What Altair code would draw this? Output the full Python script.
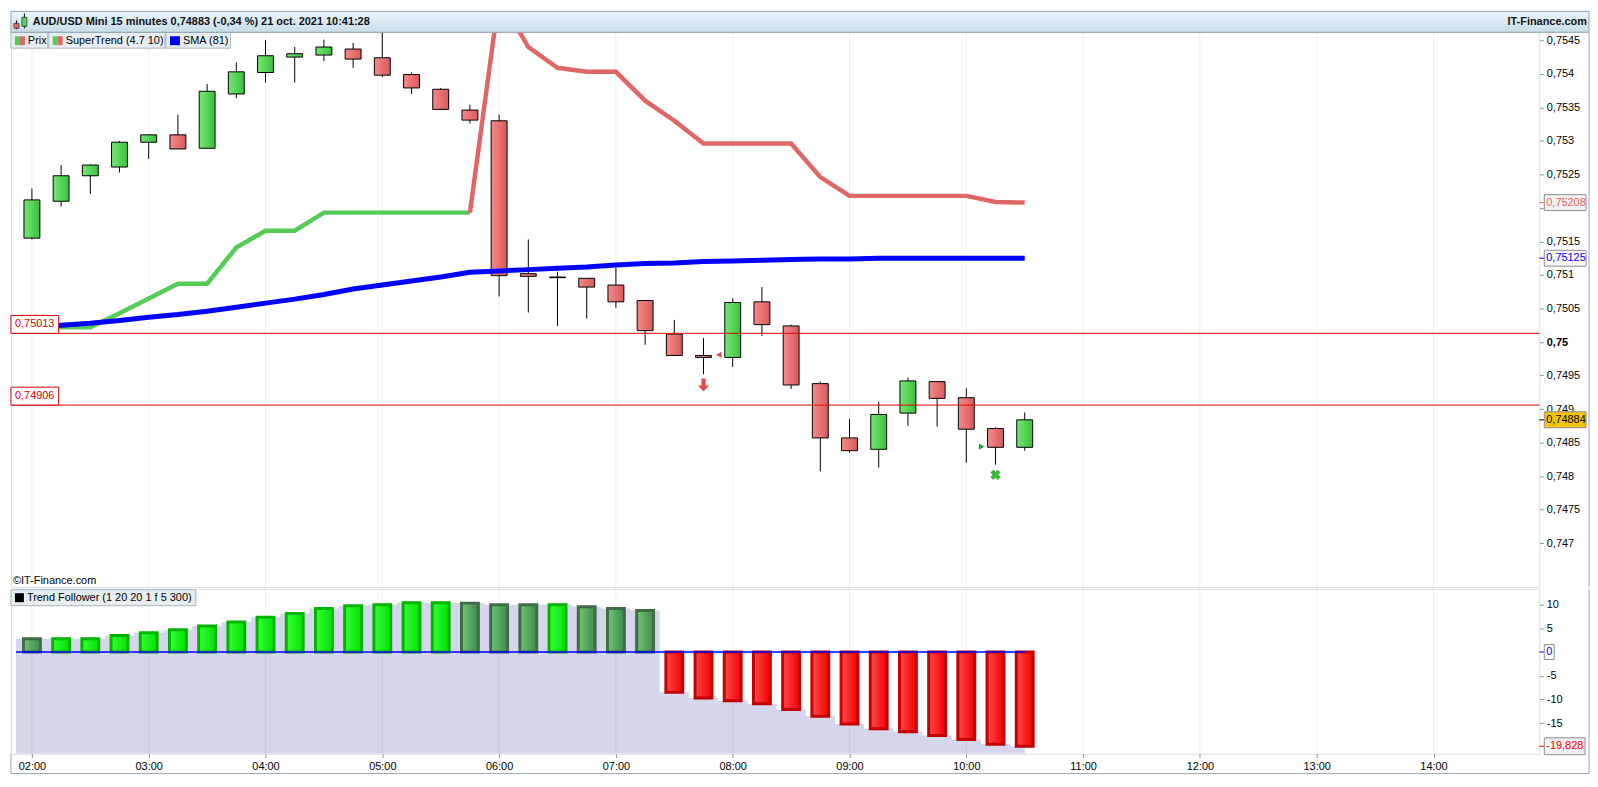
import altair as alt
import pandas as pd

FONT = "Liberation Sans"

# ---------------- data ----------------
times = ["02:00", "02:15", "02:30", "02:45", "03:00", "03:15", "03:30", "03:45",
         "04:00", "04:15", "04:30", "04:45", "05:00", "05:15", "05:30", "05:45",
         "06:00", "06:15", "06:30", "06:45", "07:00", "07:15", "07:30", "07:45",
         "08:00", "08:15", "08:30", "08:45", "09:00", "09:15", "09:30", "09:45",
         "10:00", "10:15", "10:30"]
opens = [0.75155, 0.75210, 0.75248, 0.75261, 0.75298, 0.75309, 0.75289, 0.75370,
         0.75402, 0.75425, 0.75428, 0.75437, 0.75424, 0.75399, 0.75377, 0.75346,
         0.75330, 0.75102, 0.75097, 0.75095, 0.75085, 0.75062, 0.75012, 0.74980,
         0.74977, 0.75060, 0.75024, 0.74938, 0.74857, 0.74840, 0.74894, 0.74941,
         0.74917, 0.74871, 0.74843]
highs = [0.75229, 0.75264, 0.75265, 0.75300, 0.75310, 0.75339, 0.75385, 0.75417,
         0.75450, 0.75440, 0.75451, 0.75446, 0.75470, 0.75402, 0.75379, 0.75354,
         0.75339, 0.75153, 0.75105, 0.75095, 0.75111, 0.75062, 0.75033, 0.75006,
         0.75065, 0.75082, 0.75026, 0.74941, 0.74885, 0.74911, 0.74947, 0.74941,
         0.74931, 0.74873, 0.74895]
lows = [0.75153, 0.75202, 0.75221, 0.75253, 0.75273, 0.75288, 0.75289, 0.75364,
        0.75387, 0.75387, 0.75419, 0.75409, 0.75395, 0.75370, 0.75346, 0.75326,
        0.75068, 0.75044, 0.75024, 0.75035, 0.75051, 0.74996, 0.74980, 0.74952,
        0.74963, 0.75009, 0.74930, 0.74807, 0.74835, 0.74813, 0.74875, 0.74874,
        0.74820, 0.74817, 0.74838]
closes = [0.75212, 0.75248, 0.75264, 0.75298, 0.75309, 0.75288, 0.75374, 0.75403,
          0.75427, 0.75430, 0.75440, 0.75422, 0.75398, 0.75379, 0.75347, 0.75331,
          0.75099, 0.75098, 0.75096, 0.75082, 0.75060, 0.75017, 0.74980, 0.74977,
          0.75059, 0.75026, 0.74936, 0.74857, 0.74838, 0.74892, 0.74942, 0.74916,
          0.74870, 0.74843, 0.74884]
sma81 = [0.75022, 0.75025, 0.75028, 0.75032, 0.75037, 0.75041, 0.75046, 0.75052,
         0.75058, 0.75064, 0.75071, 0.75079, 0.75085, 0.75091, 0.75097, 0.75104,
         0.75106, 0.75108, 0.75110, 0.75112, 0.75115, 0.75117, 0.75118, 0.75120,
         0.75121, 0.75122, 0.75123, 0.75124, 0.75124, 0.75125, 0.75125, 0.75125,
         0.75125, 0.75125, 0.75125]
# SuperTrend: rising (green) segment 02:00-05:45, falling (red) segment 05:45-10:30
st_up = [0.75022, 0.75022, 0.75022, 0.75043, 0.75065, 0.75087, 0.75087, 0.75141,
         0.75166, 0.75166, 0.75193, 0.75193, 0.75193, 0.75193, 0.75193, 0.75193]
st_down = [0.75193, 0.75515, 0.75440, 0.75409, 0.75403, 0.75403, 0.75360, 0.75330,
           0.75296, 0.75296, 0.75296, 0.75296, 0.75246, 0.75218, 0.75218, 0.75218,
           0.75218, 0.75218, 0.75209, 0.75208]
level_values = [0.75013, 0.74906]
tf_values = [2.78, 2.78, 2.78, 3.45, 4.06, 4.67, 5.48, 6.29, 7.30, 8.11, 9.13,
             9.74, 9.94, 10.34, 10.34, 10.28, 9.94, 9.94, 9.94, 9.53, 9.13, 8.72,
             -8.46, -9.68, -10.28, -10.89, -12.11, -13.53, -15.15, -16.17, -16.78,
             -17.59, -18.40, -19.41, -19.828]
tf_state = (["weak"] + ["strong"] * 14 + ["weak"] * 3 + ["strong"] + ["weak"] * 3
            + ["down"] * 13)
hour_labels = ["02:00", "03:00", "04:00", "05:00", "06:00", "07:00", "08:00",
               "09:00", "10:00", "11:00", "12:00", "13:00", "14:00"]
price_ticks = [0.747, 0.7475, 0.748, 0.7485, 0.749, 0.7495, 0.75, 0.7505, 0.751,
               0.7515, 0.752, 0.7525, 0.753, 0.7535, 0.754, 0.7545]
tf_ticks = [-15, -10, -5, 5, 10]
signal_times = ["07:45", "08:00", "10:15", "10:15"]
signal_prices = [0.74936, 0.74981, 0.74844, 0.74802]
signal_kinds = ["arrow_down", "tri_left", "tri_right", "cross"]

title_text = "AUD/USD Mini 15 minutes 0,74883 (-0,34 %) 21 oct. 2021 10:41:28"
site_text = "IT-Finance.com"

# ---------------- layout ----------------
W, H1, H2 = 1538, 558, 166
XMIN, XMAX = -8.2, 771.8
PMIN, PMAX = 0.74635, 0.75462
TMIN, TMAX = -21.4, 13.3


def to_min(t):
    return (int(t[:2]) - 2) * 60 + int(t[3:])


def fmt(v, d):
    return f"{v:.{d}f}".replace(".", ",")


minutes = [to_min(t) for t in times]
hour_min = [to_min(h) for h in hour_labels]

xs = alt.Scale(domain=[XMIN, XMAX], nice=False, zero=False)
ys = alt.Scale(domain=[PMIN, PMAX], nice=False, zero=False)
ts = alt.Scale(domain=[TMIN, TMAX], nice=False, zero=False)

GRAY = "#8a949c"
FRAME = "#9aa5ae"

price_axis = alt.Axis(
    orient="right", values=price_ticks, title=None, grid=False, domain=False,
    labelExpr="datum.value == 0.752 ? '' : replace(format(datum.value, '.4~f'), '.', ',')",
    labelFontWeight=alt.ExprRef(expr="datum.value == 0.75 ? 'bold' : 'normal'"),
    labelFont=FONT, labelFontSize=11, labelColor="black", labelPadding=3,
    tickSize=4, tickColor=GRAY)
x_axis = alt.Axis(
    values=hour_min, title=None, grid=False, domain=False,
    labelExpr="(datum.value < 480 ? '0' : '') + (datum.value / 60 + 2) + ':00'",
    labelFont=FONT, labelFontSize=11, labelColor="black", labelPadding=3,
    tickSize=4, tickColor=GRAY)
tf_axis = alt.Axis(
    orient="right", values=tf_ticks, title=None, grid=False, domain=False,
    labelExpr="'' + datum.value", labelFont=FONT, labelFontSize=11,
    labelColor="black", labelPadding=3, tickSize=4, tickColor=GRAY)

candles = pd.DataFrame({"m": minutes, "o": opens, "h": highs, "l": lows, "c": closes})
sma_df = pd.DataFrame({"m": minutes, "v": sma81})
stu_df = pd.DataFrame({"m": minutes[:len(st_up)], "v": st_up})
std_df = pd.DataFrame({"m": minutes[len(st_up) - 1:], "v": st_down})
lvl_df = pd.DataFrame({"v": level_values, "t": [fmt(v, 5) for v in level_values]})
hours_df = pd.DataFrame({"m": hour_min})
sig_df = pd.DataFrame({"m": [to_min(t) for t in signal_times], "v": signal_prices,
                       "k": signal_kinds})
one = pd.DataFrame({"k": [0]})


def grad(c0, c1, vertical=False):
    return {"gradient": "linear", "x1": 0, "y1": 0, "x2": 0 if vertical else 1,
            "y2": 1 if vertical else 0,
            "stops": [{"offset": 0, "color": c0}, {"offset": 1, "color": c1}]}


def X(f):
    return alt.X(f, type="quantitative", scale=xs, axis=None)


def XL(f):
    return alt.X(f, type="quantitative", scale=xs, axis=x_axis)


def PY(f):
    return alt.Y(f, type="quantitative", scale=ys, axis=price_axis)


def TY(f):
    return alt.Y(f, type="quantitative", scale=ts, axis=tf_axis)


def rect(x0, x1, y0, y1, fill, stroke=None, sw=1):
    kw = dict(fill=fill)
    if stroke:
        kw.update(stroke=stroke, strokeWidth=sw)
    return alt.Chart(one).mark_rect(**kw).encode(
        x=alt.value(x0), x2=alt.value(x1), y=alt.value(y0), y2=alt.value(y1))


def line(x0, x1, y0, y1, color=FRAME, sw=1):
    return alt.Chart(one).mark_rule(color=color, strokeWidth=sw).encode(
        x=alt.value(x0), x2=alt.value(x1), y=alt.value(y0), y2=alt.value(y1))


def label(x, y, txt, size=11, weight="normal", color="black", align="left"):
    return alt.Chart(one).mark_text(
        align=align, baseline="middle", font=FONT, fontSize=size,
        fontWeight=weight, color=color).encode(
        x=alt.value(x), y=alt.value(y), text=alt.value(txt))


def box_shape(w, h):
    r = w / 2.0
    k = (h / 2.0) / r
    return f"M-1,-{k:.4f}L1,-{k:.4f}L1,{k:.4f}L-1,{k:.4f}Z", w * w


def right_box(val, txt, fill, tcol, ychan, w=42, h=16):
    d = pd.DataFrame({"v": [val], "t": [txt]})
    shape, size = box_shape(w, h)
    tick = alt.Chart(d).mark_rule(color=tcol, strokeWidth=1).encode(
        x=alt.value(W), x2=alt.value(W + 5), y=ychan("v:Q"))
    bx = alt.Chart(d).mark_point(shape=shape, size=size, filled=True, fill=fill,
                                 stroke="#8c8c8c", strokeWidth=1, opacity=1).encode(
        x=alt.value(W + 5 + w / 2.0), y=ychan("v:Q"))
    tx = alt.Chart(d).mark_text(align="left", baseline="middle", font=FONT,
                                fontSize=11, color=tcol).encode(
        x=alt.value(W + 7), y=ychan("v:Q"), text="t:N")
    return [tick, bx, tx]


# ---------------- main panel ----------------
grid_main = alt.Chart(hours_df).mark_rule(color="black", opacity=0.07, strokeWidth=1).encode(
    x=X("m:Q"))
wicks = alt.Chart(candles).mark_rule(color="black", strokeWidth=1, clip=True).encode(
    x=X("m:Q"), y=PY("l:Q"), y2="h:Q")
up_bodies = alt.Chart(candles).transform_filter("datum.c >= datum.o").mark_bar(
    size=16, fill=grad("#74e874", "#3cc03c"), stroke="black", strokeWidth=1, clip=True
).encode(x=X("m:Q"), y=PY("o:Q"), y2="c:Q")
dn_bodies = alt.Chart(candles).transform_filter("datum.c < datum.o").mark_bar(
    size=16, fill=grad("#f58a8a", "#d95a5a"), stroke="black", strokeWidth=1, clip=True
).encode(x=X("m:Q"), y=PY("o:Q"), y2="c:Q")
st_up_line = alt.Chart(stu_df).mark_line(color="#55cc55", strokeWidth=4.5, clip=True).encode(
    x=X("m:Q"), y=PY("v:Q"))
st_dn_line = alt.Chart(std_df).mark_line(color="#e06666", strokeWidth=4.5, clip=True).encode(
    x=X("m:Q"), y=PY("v:Q"))
sma_line = alt.Chart(sma_df).mark_line(color="#0000ff", strokeWidth=5, clip=True).encode(
    x=X("m:Q"), y=PY("v:Q"))
lvl_rules = alt.Chart(lvl_df).mark_rule(color="#e00000", strokeWidth=1).encode(y=PY("v:Q"))
lshape, lsize = box_shape(48, 18)
lvl_boxes = alt.Chart(lvl_df).mark_point(
    shape=lshape, size=lsize, filled=True, fill="white", stroke="#e00000",
    strokeWidth=1, opacity=1, yOffset=-9).encode(x=alt.value(24), y=PY("v:Q"))
lvl_texts = alt.Chart(lvl_df).mark_text(
    align="left", baseline="middle", font=FONT, fontSize=11, color="#e00000", dy=-9
).encode(x=alt.value(4), y=PY("v:Q"), text="t:N")

ARROW = "M-0.32,-1L0.32,-1L0.32,0.1L0.85,0.1L0,1L-0.85,0.1L-0.32,0.1Z"
sig_arrow = alt.Chart(sig_df).transform_filter(alt.datum.k == "arrow_down").mark_point(
    shape=ARROW, size=169, filled=True, fill="#e84646", opacity=1).encode(
    x=X("m:Q"), y=PY("v:Q"))
sig_tl = alt.Chart(sig_df).transform_filter(alt.datum.k == "tri_left").mark_point(
    shape="triangle-left", size=40, filled=True, fill="#e04848", opacity=1, xOffset=-14
).encode(x=X("m:Q"), y=PY("v:Q"))
sig_tr = alt.Chart(sig_df).transform_filter(alt.datum.k == "tri_right").mark_point(
    shape="triangle-right", size=40, filled=True, fill="#1ea01e", opacity=1, xOffset=-14
).encode(x=X("m:Q"), y=PY("v:Q"))
sig_x = alt.Chart(sig_df).transform_filter(alt.datum.k == "cross").mark_point(
    shape="cross", angle=45, size=110, filled=True, fill="#3cb83c", opacity=1
).encode(x=X("m:Q"), y=PY("v:Q"))

main_right = (right_box(st_down[-1], fmt(st_down[-1], 5), "#f2f2f2", "#e06666", PY)
              + right_box(sma81[-1], fmt(sma81[-1], 5), "#f8f8f8", "#0000ff", PY)
              + right_box(closes[-1], fmt(closes[-1], 5), "#f5c400", "black", PY))

copyright_txt = label(2, H1 - 6, "\u00a9IT-Finance.com")

LEG_BG, LEG_BD = "#e7eef2", "#a9b4bc"
legend_main = [
    rect(0, 37, 0, 16, LEG_BG, LEG_BD),
    rect(38, 155, 0, 16, LEG_BG, LEG_BD),
    rect(156, 221, 0, 16, LEG_BG, LEG_BD),
    rect(4, 9, 4, 13, "#55cc55"), rect(9, 14, 4, 13, "#e06666"),
    rect(42, 47, 4, 13, "#55cc55"), rect(47, 52, 4, 13, "#e06666"),
    rect(160, 170, 4, 13, "#0000ff"),
    label(17, 8.5, "Prix"), label(55, 8.5, "SuperTrend (4.7 10)"),
    label(173, 8.5, "SMA (81)"),
]

header = [
    rect(0, W + 50, -21, 0, grad("#eaf7fd", "#c8dce6", vertical=True), "#8fa0ab"),
    alt.Chart(one).mark_rule(color="black", strokeWidth=1).encode(
        x=alt.value(5.5), y=alt.value(-12), y2=alt.value(-3)),
    rect(3, 8, -9, -4, "#e46a6a", "#333", 0.8),
    alt.Chart(one).mark_rule(color="black", strokeWidth=1).encode(
        x=alt.value(13.5), y=alt.value(-19), y2=alt.value(-4)),
    rect(11, 16, -15, -6, "#5ad25a", "#333", 0.8),
    label(22, -10.5, title_text, weight="bold", color="#111"),
    label(W + 48, -10.5, site_text, weight="bold", color="#111", align="right"),
    line(W + 50, W + 50, 0, H1),
]

main = alt.layer(
    grid_main, wicks, up_bodies, dn_bodies, st_up_line, st_dn_line, sma_line,
    lvl_rules, lvl_boxes, lvl_texts, sig_arrow, sig_tl, sig_tr, sig_x,
    *main_right, copyright_txt, *legend_main, *header
).properties(width=W, height=H1)

# ---------------- lower panel (Trend Follower) ----------------
tf_df = pd.DataFrame({"m": minutes, "v": tf_values, "s": tf_state})
area_df = pd.DataFrame({"m": [XMIN] + minutes, "v": [tf_values[0]] + tf_values})
zero_df = pd.DataFrame({"a": [XMIN], "b": [minutes[-1]], "z": [0]})

tf_area = alt.Chart(area_df).mark_area(interpolate="step", fill="#d5d6ec", clip=True).encode(
    x=XL("m:Q"), y=TY("v:Q"), y2=alt.datum(TMIN))
grid_low = alt.Chart(hours_df).mark_rule(color="black", opacity=0.07, strokeWidth=1).encode(
    x=XL("m:Q"))


def tf_bars(state, fill, stroke):
    return alt.Chart(tf_df).transform_filter(alt.datum.s == state).mark_bar(
        size=17, fill=fill, stroke=stroke, strokeWidth=3, clip=True).encode(
        x=XL("m:Q"), y=TY("v:Q"), y2=alt.datum(0))


bars_strong = tf_bars("strong", grad("#33ff33", "#04e004"), "#00b400")
bars_weak = tf_bars("weak", grad("#72c676", "#3d8a48"), "#3f6c47")
bars_down = tf_bars("down", grad("#ff4a4a", "#f20000"), "#c40000")
zero_line = alt.Chart(zero_df).mark_rule(color="#0000ff", strokeWidth=1.5).encode(
    x=XL("a:Q"), x2="b:Q", y=TY("z:Q"))

low_right = (right_box(0, "0", "#fbfbfb", "#0000ff", TY, w=10, h=15)
             + right_box(tf_values[-1], fmt(tf_values[-1], 3), "#f0f0f0", "#ff0000", TY,
                         w=41, h=17))

legend_low = [
    rect(0, 186, 1, 17, LEG_BG, LEG_BD),
    rect(4, 13, 4.5, 13.5, "black"),
    label(16, 9.5, "Trend Follower (1 20 20 1 f 5 300)"),
]

frame_low = [
    line(W + 50, W + 50, 0, H2 + 20),
    line(0, 0, H2, H2 + 20),
    line(0, W + 50, H2 + 20, H2 + 20),
]

lower = alt.layer(
    tf_area, grid_low, bars_weak, bars_strong, bars_down, zero_line,
    *low_right, *legend_low, *frame_low
).properties(width=W, height=H2)

chart = alt.vconcat(main, lower, spacing=0).properties(padding=0).configure_view(
    stroke=FRAME, strokeWidth=1).configure(background="white")

chart.save("out.html", embed_options={"renderer": "svg", "actions": False})
